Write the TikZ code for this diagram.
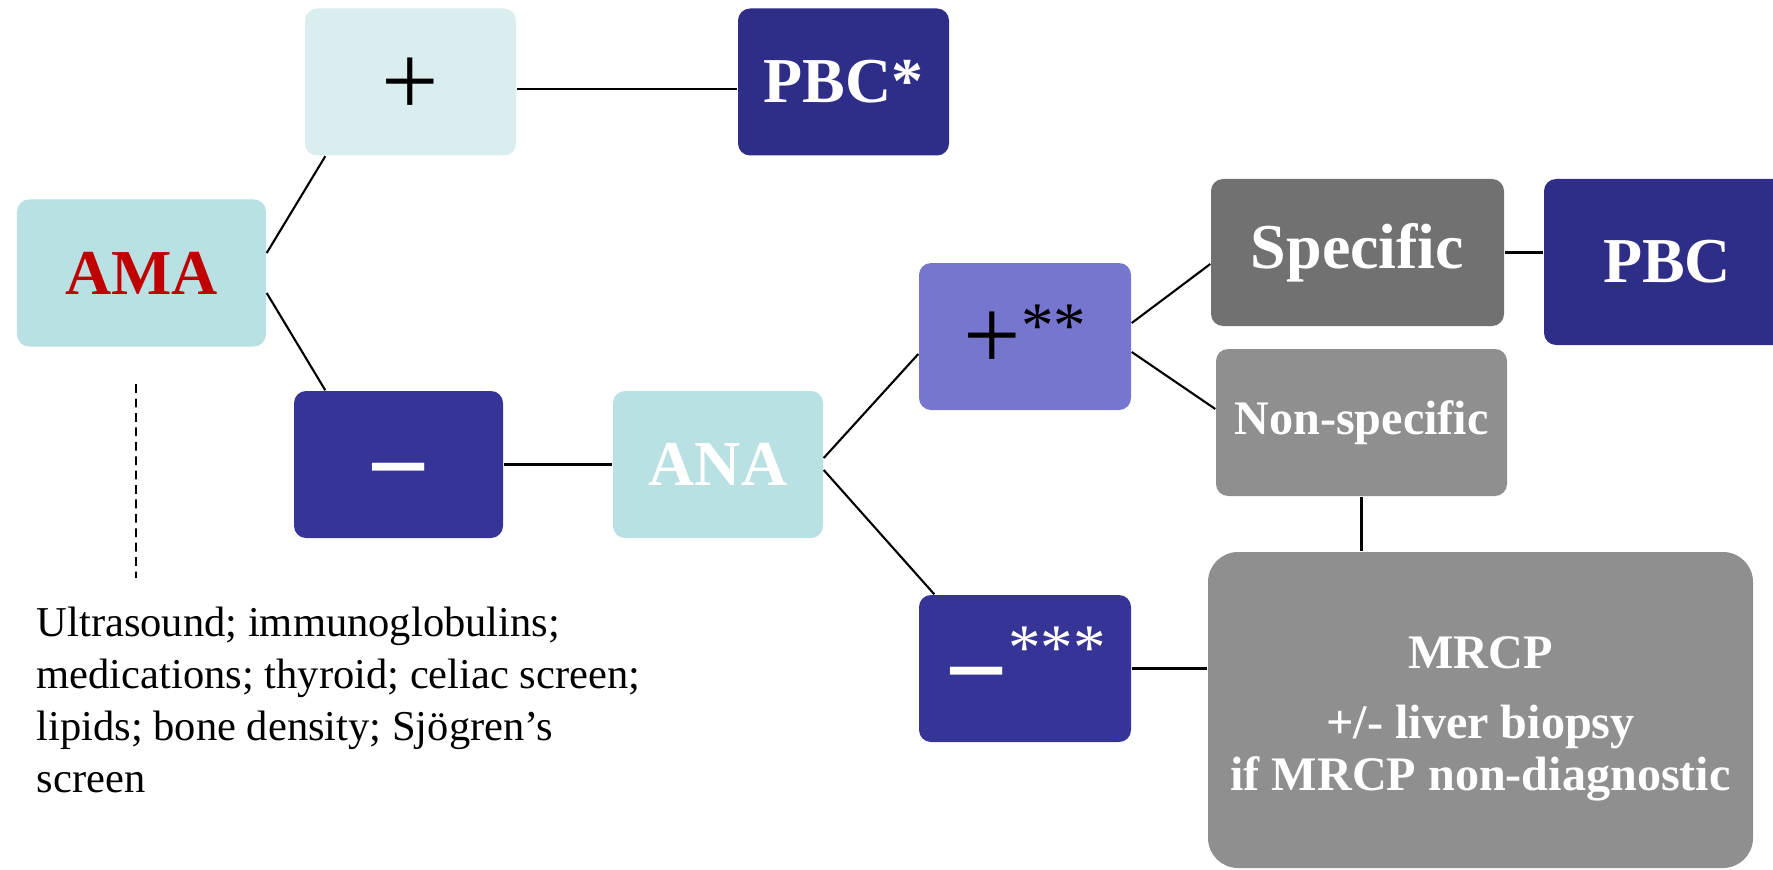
\documentclass[tikz,border=0pt]{standalone}
\usepackage{fontspec}
\setmainfont{Liberation Serif}
\usepackage{tikz}
\usetikzlibrary{positioning}
\definecolor{tealLight}{RGB}{218,237,239}
\definecolor{tealMain}{RGB}{185,224,227}
\definecolor{navyDark}{RGB}{46,45,136}
\definecolor{navyMain}{RGB}{54,53,151}
\definecolor{lavender}{RGB}{118,118,207}
\definecolor{greyDark}{RGB}{113,113,113}
\definecolor{greyMid}{RGB}{143,143,143}
\definecolor{rougeAMA}{RGB}{192,0,0}
% signs sit in boxes of no height, so the node centre is their baseline
\newcommand{\plussign}{\raisebox{-9.4pt}[0pt][0pt]{\fontsize{29pt}{29pt}\selectfont\mdseries +}}
\newcommand{\minussign}{\raisebox{-11.3pt}[0pt][0pt]{\fontsize{32pt}{32pt}\selectfont\bfseries −}}
\newcommand{\stars}[2]{\raisebox{#1}[0pt][0pt]{\fontsize{18.5pt}{18.5pt}\selectfont\mdseries #2}}

\begin{document}
\begin{tikzpicture}[
			box/.style={rounded corners=1.2mm, inner sep=0pt, minimum height=1.47cm,
				font=\bfseries\fontsize{18.2pt}{20pt}\selectfont, text=white},
			link/.style={line width=0.6pt},
			dashed link/.style={line width=0.45pt, dash pattern=on 2.5pt off 1.6pt}
			]
			\useasboundingbox (0,0) rectangle (17.73,-8.69);
			\clip (0,0) rectangle (17.73,-8.69);
			\node[box, fill=tealMain, minimum width=2.49cm, text=rougeAMA] (ama) at (1.415,-2.73) {AMA};
			\node[box, fill=tealLight, minimum width=2.11cm, text=black] (plus) at (4.105,-0.82) {\plussign};
			\node[box, fill=navyDark, minimum width=2.11cm] (pbcstar) at (8.435,-0.82) {PBC*};
			\node[box, fill=navyMain, minimum width=2.09cm] (minus) at (3.985,-4.645) {\minussign};
			\node[box, fill=tealMain, minimum width=2.10cm] (ana) at (7.18,-4.645) {ANA};
			\node[box, fill=lavender, minimum width=2.12cm, text=black] (plusstar) at (10.25,-3.365) {\plussign\stars{-3pt}{**}};
			\node[box, fill=navyMain, minimum width=2.12cm] (minusstar) at (10.25,-6.685) {\minussign\stars{-0.15pt}{***}};
			\node[box, fill=greyDark, minimum width=2.93cm] (specific) at (13.575,-2.525) {Specific};
			\node[box, fill=navyDark, minimum width=2.46cm, minimum height=1.66cm] (pbc) at (16.67,-2.62) {PBC};
			\node[box, fill=greyMid, minimum width=2.91cm, font=\bfseries\fontsize{13.7pt}{16pt}\selectfont] (nonspec) at (13.615,-4.225) {Non-specific};
			\node[box, fill=greyMid, minimum width=5.45cm, minimum height=3.16cm, rounded corners=3mm, align=center,
				font=\bfseries\fontsize{13.7pt}{14.8pt}\selectfont] (mrcp) at (14.805,-7.10) {\rule{0pt}{14.1pt}MRCP\\[5pt]+/- liver biopsy\\if MRCP non-diagnostic};
			\node[anchor=north west, inner sep=0pt, align=left, font=\fontsize{12.1pt}{14.8pt}\selectfont] (tests) at (0.36,-6.06)
				{Ultrasound; immunoglobulins;\\medications; thyroid; celiac screen;\\lipids; bone density; Sjögren’s\\screen};
			\coordinate (dashend) at (1.36,-5.78);
			
			\draw[link] ([yshift=2mm]ama.east) -- ([xshift=2.1mm]plus.south west);
			\draw[link] ([yshift=-2mm]ama.east) -- ([xshift=3.2mm]minus.north west);
			\draw[link] ([yshift=-0.7mm]plus.east) -- ([yshift=-0.7mm]pbcstar.west);
			\draw[link] (minus) -- (ana);
			\draw[link] ([yshift=0.65mm]ana.east) -- ([yshift=-1.75mm]plusstar.west);
			\draw[link] ([yshift=-0.55mm]ana.east) -- ([xshift=1.6mm]minusstar.north west);
			\draw[link] ([yshift=1.35mm]plusstar.east) -- ([yshift=-1.15mm]specific.west);
			\draw[link] ([yshift=-1.55mm]plusstar.east) -- ([yshift=1.35mm]nonspec.west);
			\draw[link] (specific.east) -- (specific.east -| pbc.west);
			\draw[link] (nonspec.south) -- (nonspec.south |- mrcp.north);
			\draw[link] (minusstar.east) -- (minusstar.east -| mrcp.west);
			\draw[dashed link] ([xshift=-0.55mm, yshift=-3.7mm]ama.south) -- (dashend);
		\end{tikzpicture}
\end{document}
